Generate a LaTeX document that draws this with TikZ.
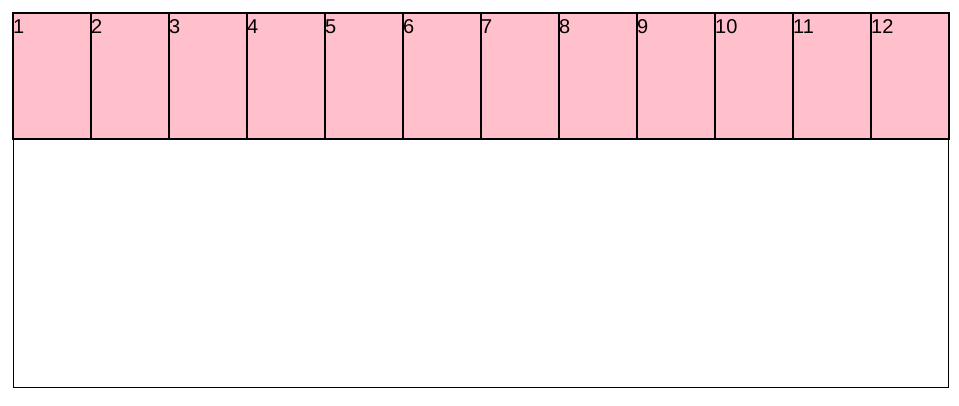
\documentclass[tikz,border=0pt]{standalone}
\usepackage{fontspec}
\setmainfont{Liberation Sans}
\usetikzlibrary{positioning}
\definecolor{cellpink}{RGB}{255,192,203}

\begin{document}
\begin{tikzpicture}[x=1pt, y=-1pt,
    frame/.style={rectangle, draw, line width=0.9pt, minimum width=935pt, minimum height=374pt, anchor=north west, inner sep=0pt},
    cell/.style={rectangle, draw, line width=1.6pt, fill=cellpink, minimum width=78pt, minimum height=126pt, anchor=north west, inner sep=0pt},
    num/.style={anchor=north west, inner sep=0pt, text height=15pt, text depth=0pt, xshift=1pt, yshift=-6.5pt, font=\fontsize{20}{22}\selectfont}
]
\useasboundingbox (0,0) rectangle (959,405);
\node[frame] (container) at (12.5,12.5) {};

\node[cell, label={[num]north west:1}] (c1) at (12,12) {};
\node[cell, label={[num]north west:2}] (c2) at (90,12) {};
\node[cell, label={[num]north west:3}] (c3) at (168,12) {};
\node[cell, label={[num]north west:4}] (c4) at (246,12) {};
\node[cell, label={[num]north west:5}] (c5) at (324,12) {};
\node[cell, label={[num]north west:6}] (c6) at (402,12) {};
\node[cell, label={[num]north west:7}] (c7) at (480,12) {};
\node[cell, label={[num]north west:8}] (c8) at (558,12) {};
\node[cell, label={[num]north west:9}] (c9) at (636,12) {};
\node[cell, label={[num]north west:10}] (c10) at (714,12) {};
\node[cell, label={[num]north west:11}] (c11) at (792,12) {};
\node[cell, label={[num]north west:12}] (c12) at (870,12) {};
\end{tikzpicture}
\end{document}
